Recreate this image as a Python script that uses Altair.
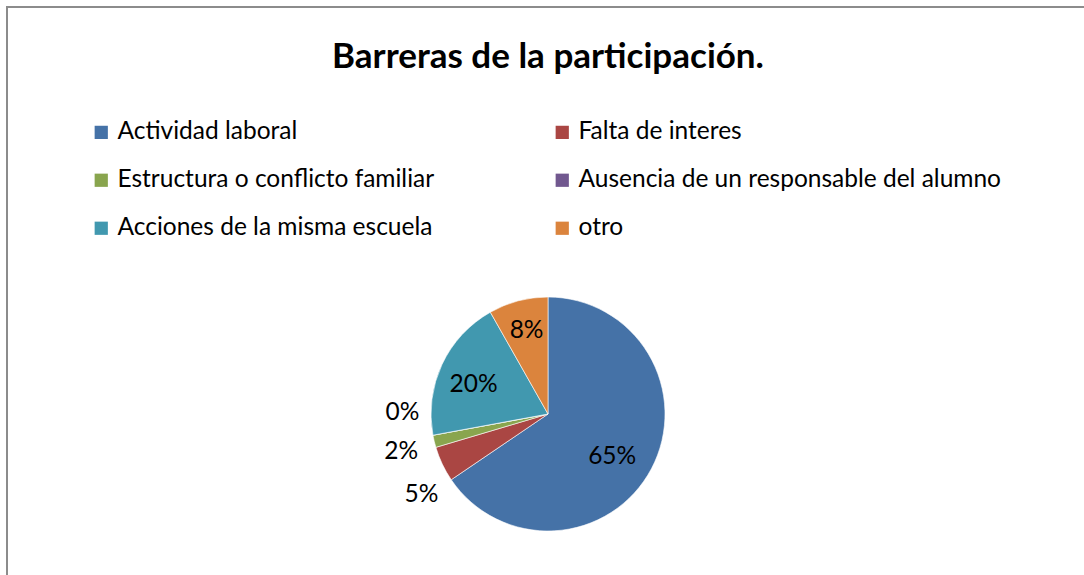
import altair as alt
import pandas as pd

categories = ["Actividad laboral", "Falta de interes", "Estructura o conflicto familiar",
              "Ausencia de un responsable del alumno", "Acciones de la misma escuela", "otro"]
values = [65.5, 4.9, 1.7, 0.0, 19.7, 8.2]
labels = ["65%", "5%", "2%", "0%", "20%", "8%"]
colors = ["#4572A7", "#AA4643", "#89A54E", "#71588F", "#4198AF", "#DB843D"]

df = pd.DataFrame({"cat": categories, "value": values, "label": labels,
                   "idx": list(range(len(categories)))})

# legend is filled column by column, so list entries to read row by row
legend_order = categories[0::2] + categories[1::2]

TOP = 90
CX, CY = 548, 414 - TOP
R = 117
FONT = "Lato"
FS = 24.5

base = alt.Chart(df).encode(
    theta=alt.Theta("value:Q", stack=True),
    order=alt.Order("idx:Q", sort="ascending"),
)

color_enc = alt.Color(
    "cat:N",
    scale=alt.Scale(domain=categories, range=colors),
    legend=alt.Legend(
        orient="none", legendX=89, legendY=120 - TOP, columns=2, title=None,
        values=legend_order,
        symbolType="square", symbolSize=175, symbolStrokeWidth=0, symbolOpacity=1,
        labelFont=FONT, labelFontSize=FS, labelColor="black", labelOffset=4,
        columnPadding=115, rowPadding=23, labelLimit=600,
    ),
)

pie = base.mark_arc(radius=R, stroke="white", strokeWidth=0.6).encode(
    color=color_enc, x=alt.value(CX), y=alt.value(CY)
)

# label placement: category -> (radius, dx, dy)
label_layout = {
    "Actividad laboral": (76, -3, 7),
    "Falta de interes": (150, 9, 17),
    "Estructura o conflicto familiar": (151, 0, 3),
    "Ausencia de un responsable del alumno": (148, 0, -28),
    "Acciones de la misma escuela": (80, -2, 5),
    "otro": (88, 1, 2),
}

layers = [pie]
for cat, (r, dx, dy) in label_layout.items():
    layers.append(
        base.mark_text(radius=r, dx=dx, dy=dy, font=FONT, fontSize=FS, color="black").encode(
            text=alt.condition(f"datum.cat === '{cat}'", "label:N", alt.value("")),
            detail="cat:N",
            x=alt.value(CX), y=alt.value(CY),
        )
    )

frame = alt.Chart(pd.DataFrame({"f": [0]})).mark_rect(
    fill="transparent", stroke="#8c8c8c", strokeWidth=2
).encode(
    x=alt.value(7), y=alt.value(7 - TOP), x2=alt.value(1400), y2=alt.value(900)
)
layers.append(frame)

chart = alt.layer(*layers).properties(
    width=1084, height=575 - TOP,
    title=alt.TitleParams(
        "Barreras de la participación.", font=FONT, fontSize=35, fontWeight="bold",
        anchor="middle", color="black", dx=6, offset=-69,
    ),
    autosize=alt.AutoSizeParams(type="none"),
    padding={"left": 0, "top": TOP, "right": 0, "bottom": 0},
    background="white",
).configure_view(stroke=None)

chart.save("out.html", embed_options={"renderer": "svg", "actions": False})
